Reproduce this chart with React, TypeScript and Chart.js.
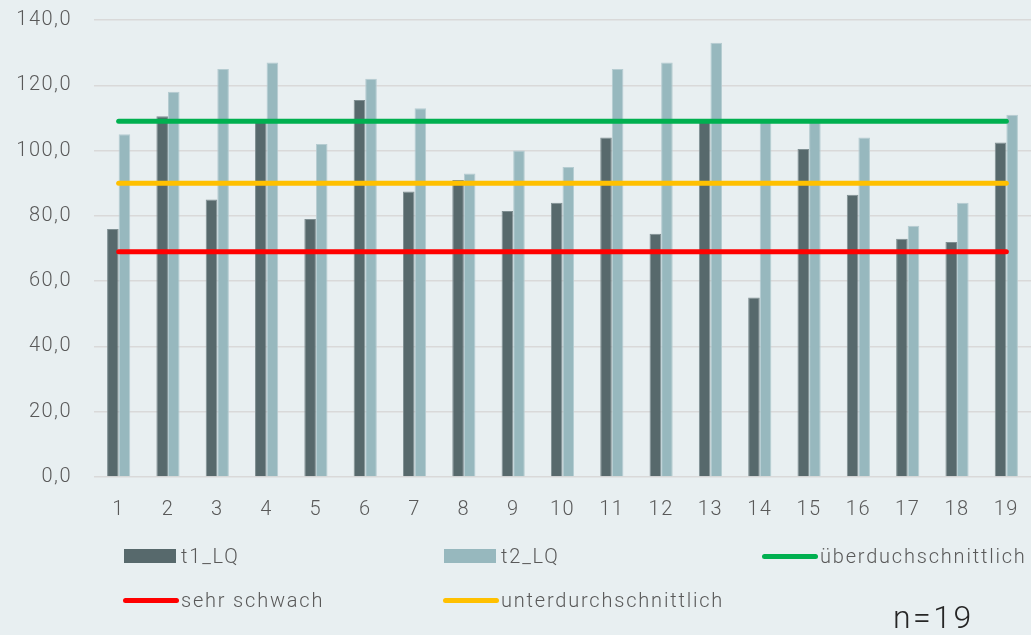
import React, { useEffect, useRef } from 'react';
import { Chart, registerables } from 'chart.js';

Chart.register(...registerables);

// ---- data ----
const categories = ['1', '2', '3', '4', '5', '6', '7', '8', '9', '10', '11', '12', '13', '14', '15', '16', '17', '18', '19'];
const t1LQ = [76, 110.5, 85, 109, 79, 115.5, 87.5, 91, 81.5, 84, 104, 74.5, 109, 55, 100.5, 86.5, 73, 72, 102.5];
const t2LQ = [105, 118, 125, 127, 102, 122, 113, 93, 100, 95, 125, 127, 133, 109, 109, 104, 77, 84, 111];
const ueberdurchschnittlich = [109, 109, 109, 109, 109, 109, 109, 109, 109, 109, 109, 109, 109, 109, 109, 109, 109, 109, 109];
const sehrSchwach = [69, 69, 69, 69, 69, 69, 69, 69, 69, 69, 69, 69, 69, 69, 69, 69, 69, 69, 69];
const unterdurchschnittlich = [90, 90, 90, 90, 90, 90, 90, 90, 90, 90, 90, 90, 90, 90, 90, 90, 90, 90, 90];
const yMin = 0;
const yMax = 140;
const yStep = 20;
const sampleNote = 'n=19';

const FONT = 'Roboto, "Noto Sans", sans-serif';
const TEXT = '#595959';
const BG = '#e8eff1';

type Item = { label: string; color: string; kind: 'box' | 'line' };

const seriesDefs = [
  { label: 't1_LQ', data: t1LQ, color: '#57696c', border: '#7f8f92', kind: 'box' as const },
  { label: 't2_LQ', data: t2LQ, color: '#97b8be', border: '#b5ccd1', kind: 'box' as const },
  { label: 'überduchschnittlich', data: ueberdurchschnittlich, color: '#00b050', border: '#00b050', kind: 'line' as const },
  { label: 'sehr schwach', data: sehrSchwach, color: '#ff0000', border: '#ff0000', kind: 'line' as const },
  { label: 'unterdurchschnittlich', data: unterdurchschnittlich, color: '#ffc000', border: '#ffc000', kind: 'line' as const },
];

const spacingPlugin = {
  id: 'letterSpacing',
  beforeDraw(chart: any) {
    try {
      (chart.ctx as any).letterSpacing = '1.5px';
    } catch (e) {}
  },
};

export default function App() {
  const ref = useRef<HTMLCanvasElement | null>(null);

  useEffect(() => {
    if (!ref.current) return;
    const datasets: any[] = seriesDefs.map((s) =>
      s.kind === 'box'
        ? {
            type: 'bar',
            label: s.label,
            data: s.data,
            backgroundColor: s.color,
            borderColor: s.border,
            borderWidth: 1,
            categoryPercentage: 0.47,
            barPercentage: 1.0,
            order: 1,
          }
        : {
            type: 'line',
            label: s.label,
            data: s.data,
            borderColor: s.color,
            backgroundColor: s.color,
            borderWidth: 5,
            borderCapStyle: 'round',
            pointRadius: 0,
            pointHoverRadius: 0,
            fill: false,
            tension: 0,
            order: 0,
          }
    );
    const chart = new Chart(ref.current, {
      type: 'bar',
      data: { labels: categories, datasets },
      options: {
        responsive: false,
        animation: false,
        devicePixelRatio: 1,
        layout: { padding: { top: 20, right: 0, bottom: 114, left: 0 } },
        plugins: { legend: { display: false }, tooltip: { enabled: false } },
        scales: {
          x: {
            grid: { display: false },
            border: { display: false },
            ticks: {
              color: TEXT,
              font: { family: FONT, size: 20, weight: '300' },
              padding: 13,
              maxRotation: 0,
              autoSkip: false,
            },
            afterFit: (scale: any) => {
              scale.height = 44;
            },
          },
          y: {
            min: yMin,
            max: yMax,
            grid: { color: '#d9d9d9', lineWidth: 1.5, drawTicks: true, tickLength: 22, tickColor: 'rgba(0,0,0,0)' },
            border: { display: false },
            ticks: {
              stepSize: yStep,
              color: TEXT,
              font: { family: FONT, size: 20, weight: '300' },
              padding: 0,
              callback: (v: any) => Number(v).toFixed(1).replace('.', ','),
            },
            afterFit: (scale: any) => {
              scale.width = 94;
            },
          },
        },
      },
      plugins: [spacingPlugin],
    });
    return () => chart.destroy();
  }, []);

  const items: Item[] = seriesDefs.map((s) => ({ label: s.label, color: s.color, kind: s.kind }));
  const colLeft = [124, 444, 763];
  const rowCenter = [556, 600];

  return (
    <div style={{ position: 'fixed', left: 0, top: 0, width: 1031, height: 635, background: BG, overflow: 'hidden' }}>
      <canvas ref={ref} width={1031} height={635} style={{ position: 'absolute', left: 0, top: 0, width: 1031, height: 635 }} />
      {items.map((it, i) => {
        const col = i % 3;
        const row = Math.floor(i / 3);
        const left = colLeft[col];
        const cy = rowCenter[row];
        return (
          <div key={it.label}>
            {it.kind === 'box' ? (
              <div style={{ position: 'absolute', left, top: cy - 7, width: 52, height: 14, background: it.color }} />
            ) : (
              <div style={{ position: 'absolute', left: left - 1, top: cy - 2.5, width: 56, height: 5, borderRadius: 3, background: it.color }} />
            )}
            <div
              style={{
                position: 'absolute',
                left: left + 57,
                top: cy - 10,
                height: 20,
                lineHeight: '20px',
                fontSize: 20,
                fontFamily: FONT,
                fontWeight: 300,
                letterSpacing: '1.8px',
                color: TEXT,
                whiteSpace: 'nowrap',
              }}
            >
              {it.label}
            </div>
          </div>
        );
      })}
      <div
        style={{
          position: 'absolute',
          left: 893,
          top: 600,
          fontSize: 32,
          lineHeight: '34px',
          fontFamily: FONT,
          fontWeight: 300,
          letterSpacing: '2.5px',
          color: '#262626',
          whiteSpace: 'nowrap',
        }}
      >
        {sampleNote}
      </div>
    </div>
  );
}
